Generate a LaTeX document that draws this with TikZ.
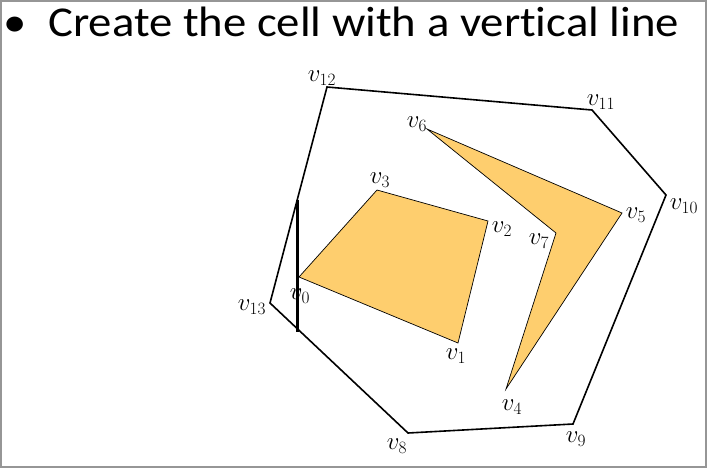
\documentclass[tikz,border=0pt]{standalone}
\usepackage{fontspec}
\newfontfamily\titlefont[FakeStretch=1.1,Ligatures={NoCommon}]{Carlito}
\definecolor{fillorange}{RGB}{254,206,110}
\definecolor{frame}{RGB}{150,150,150}
\begin{document}
\begin{tikzpicture}[x=1pt,y=-1pt,
  outer/.style={draw=black,line width=1.6pt,line join=miter},
  hole/.style={draw=black,line width=0.7pt,fill=fillorange,line join=miter},
  cut/.style={draw=black,line width=2.2pt},
  lbl/.style={inner sep=0pt,font=\fontsize{23}{23}\selectfont},
  title/.style={inner sep=0pt,font=\titlefont\fontsize{42.5}{42.5}\selectfont}]
\useasboundingbox (0,0) rectangle (709,469);
\draw[frame,line width=1.5pt] (1,1) rectangle (706,467);
% title
\node[title,anchor=base] (bullet) at (15,36.7) {•};
\node[title,anchor=base west] (head) at (48,36.7) {Create the cell with a vertical line};
% outer polygon
\coordinate (v12) at (327,87);
\coordinate (v11) at (592,110);
\coordinate (v10) at (666,195);
\coordinate (v9) at (573,424);
\coordinate (v8) at (408,433);
\coordinate (v13) at (270,303);
% quad
\coordinate (v0) at (299,277);
\coordinate (v1) at (458,343);
\coordinate (v2) at (488,221);
\coordinate (v3) at (377,190);
% arrow polygon
\coordinate (v4) at (506,389);
\coordinate (v5) at (622,213);
\coordinate (v6) at (427,129);
\coordinate (v7) at (556,233);
% vertical cut line ends
\coordinate (ctop) at (297.5,200);
\coordinate (cbot) at (297.5,332);
\draw[outer] (v12) -- (v11) -- (v10) -- (v9) -- (v8) -- (v13) -- cycle;
\draw[hole] (v0) -- (v1) -- (v2) -- (v3) -- cycle;
\draw[hole] (v6) -- (v5) -- (v4) -- (v7) -- cycle;
\draw[cut] (ctop) -- (cbot);
% labels
\node[lbl] (l12) at (322,78) {$v_{12}$};
\node[lbl] (l11) at (601,102) {$v_{11}$};
\node[lbl] (l10) at (684,206) {$v_{10}$};
\node[lbl] (l9) at (576,439) {$v_{9}$};
\node[lbl] (l8) at (397,446) {$v_{8}$};
\node[lbl] (l13) at (252,307) {$v_{13}$};
\node[lbl] (l0) at (300,296) {$v_{0}$};
\node[lbl] (l1) at (456,356) {$v_{1}$};
\node[lbl] (l2) at (502,229) {$v_{2}$};
\node[lbl] (l3) at (380,180) {$v_{3}$};
\node[lbl] (l4) at (512,407) {$v_{4}$};
\node[lbl] (l5) at (636,215) {$v_{5}$};
\node[lbl] (l6) at (417,124) {$v_{6}$};
\node[lbl] (l7) at (539,241) {$v_{7}$};
\end{tikzpicture}
\end{document}
